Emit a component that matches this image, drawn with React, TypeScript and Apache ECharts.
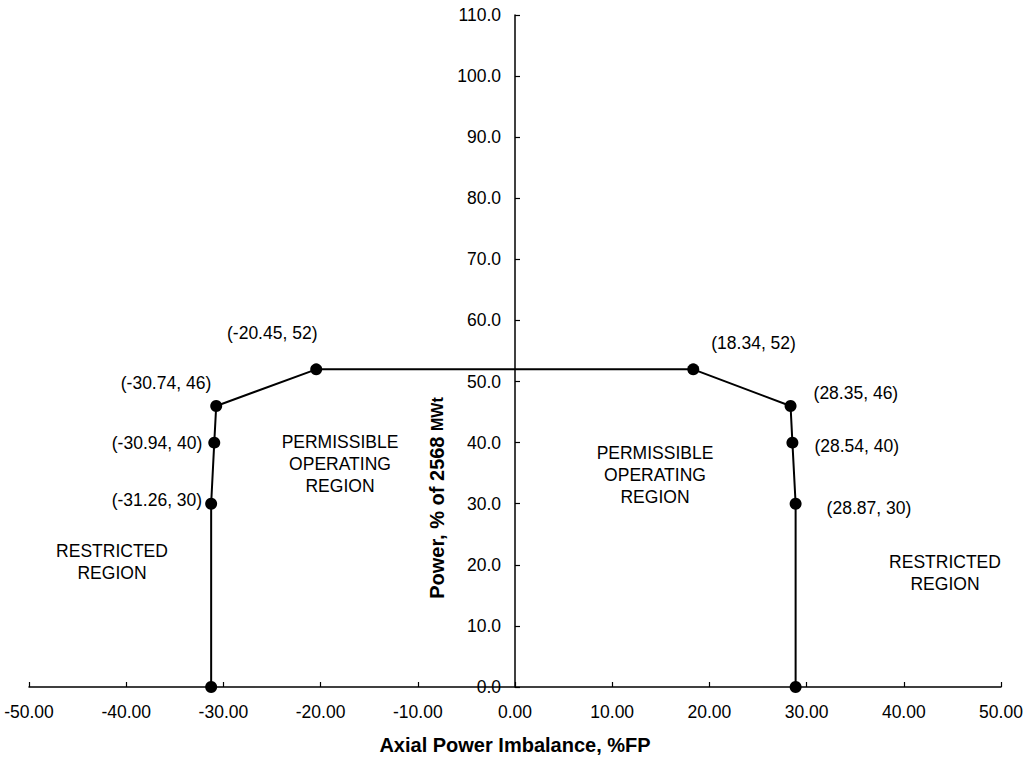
import React, { useEffect, useRef } from "react";
import * as echarts from "echarts";

// Operating limit curve: axial power imbalance (%FP) vs. power (% of 2568 MWt)
const imbalance = [-31.26, -31.26, -30.94, -30.74, -20.45, 18.34, 28.35, 28.54, 28.87, 28.87];
const power = [0, 30, 40, 46, 52, 52, 46, 40, 30, 0];
// which breakpoints carry a coordinate label
const labelled = [false, true, true, true, true, true, true, true, true, false];

const xTicks = { min: -50, max: 50, step: 10 };
const yTicks = { min: 0, max: 110, step: 10 };

const xTitle = "Axial Power Imbalance, %FP";
const yTitleMain = "Power, % of 2568 ";
const yTitleUnit = "MWt";

// label placement per breakpoint: [align, dx, dy]
const labelPlacement: [string, number, number][] = [
  ["center", 0, 0],
  ["right", -9, -4],
  ["right", -12, 0],
  ["right", -5, -23],
  ["center", -44, -36],
  ["left", 18, -26],
  ["left", 23, -13],
  ["left", 22, 3],
  ["left", 31, 4],
  ["center", 0, 0],
];

const FONT = "Liberation Sans, Arial, sans-serif";
const W = 1024;
const H = 758;
const GRID = { left: 29, right: 23, top: 15, bottom: 71 };

export default function App() {
  const ref = useRef<HTMLDivElement>(null);

  useEffect(() => {
    if (!ref.current) return;
    const chart = echarts.init(ref.current, undefined, { renderer: "svg" });

    const data = imbalance.map((x, i) => {
      const [align, dx, dy] = labelPlacement[i];
      return {
        value: [x, power[i]],
        label: {
          show: labelled[i],
          position: "inside",
          align,
          verticalAlign: "middle",
          offset: [dx, dy],
        },
      };
    });

    // the power axis sits on the zero imbalance line
    const plotWidth = W - GRID.left - GRID.right;
    const zeroOffset = (plotWidth * (0 - xTicks.min)) / (xTicks.max - xTicks.min);

    const regionText = (text: string, x: number, y: number) => ({
      type: "text",
      x,
      y,
      style: {
        text,
        textAlign: "center",
        textVerticalAlign: "middle",
        fontFamily: FONT,
        fontSize: 17.5,
        lineHeight: 22,
        fill: "#000",
      },
      silent: true,
    });

    chart.setOption({
      animation: false,
      backgroundColor: "#fff",
      grid: { ...GRID, containLabel: false, outerBoundsMode: "none" },
      xAxis: {
        type: "value",
        min: xTicks.min,
        max: xTicks.max,
        interval: xTicks.step,
        axisLine: { onZero: false, lineStyle: { color: "#000", width: 1.5 } },
        axisTick: { inside: true, length: 5, lineStyle: { color: "#000", width: 1.2 } },
        axisLabel: {
          color: "#000",
          fontFamily: FONT,
          fontSize: 17.5,
          margin: 16,
          formatter: (v: number) => v.toFixed(2),
        },
        splitLine: { show: false },
        name: xTitle,
        nameLocation: "middle",
        nameGap: 48,
        nameTextStyle: { color: "#000", fontFamily: FONT, fontSize: 20, fontWeight: "bold" },
      },
      yAxis: {
        type: "value",
        min: yTicks.min,
        max: yTicks.max,
        interval: yTicks.step,
        offset: -zeroOffset,
        axisLine: { show: true, onZero: false, lineStyle: { color: "#000", width: 1.5 } },
        axisTick: { show: true, inside: true, length: 5, lineStyle: { color: "#000", width: 1.2 } },
        axisLabel: {
          color: "#000",
          fontFamily: FONT,
          fontSize: 17.5,
          margin: 14,
          formatter: (v: number) => v.toFixed(1),
        },
        splitLine: { show: false },
      },
      series: [
        {
          type: "line",
          data,
          symbol: "circle",
          symbolSize: 12,
          itemStyle: { color: "#000" },
          lineStyle: { color: "#000", width: 2 },
          label: {
            color: "#000",
            fontFamily: FONT,
            fontSize: 17.5,
            formatter: (p: any) => `(${p.value[0]}, ${p.value[1]})`,
          },
          z: 3,
        },
      ],
      graphic: [
        {
          type: "text",
          x: 437,
          y: 498,
          rotation: Math.PI / 2,
          style: {
            text: `{m|${yTitleMain}}{u|${yTitleUnit}}`,
            textAlign: "center",
            textVerticalAlign: "middle",
            fill: "#000",
            rich: {
              m: { fontFamily: FONT, fontSize: 20, fontWeight: "bold", fill: "#000" },
              u: { fontFamily: FONT, fontSize: 16, fontWeight: "bold", fill: "#000" },
            },
          },
          silent: true,
        },
        regionText("RESTRICTED\nREGION", 112, 562),
        regionText("PERMISSIBLE\nOPERATING\nREGION", 340, 464),
        regionText("PERMISSIBLE\nOPERATING\nREGION", 655, 475),
        regionText("RESTRICTED\nREGION", 945, 573),
      ],
    });

    return () => chart.dispose();
  }, []);

  return <div ref={ref} style={{ width: W, height: H, position: "absolute", left: 0, top: 0 }} />;
}
